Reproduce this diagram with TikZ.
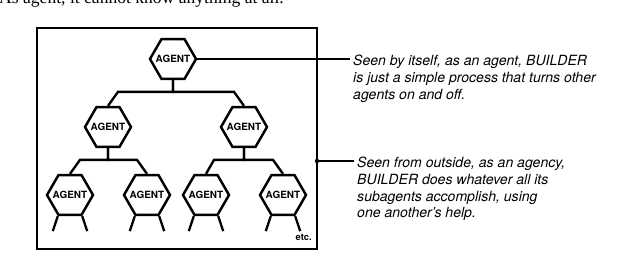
\documentclass[tikz,border=0pt]{standalone}
\usepackage{fontspec}
\setmainfont{Liberation Serif}
\setsansfont{TeX Gyre Heros}
\usetikzlibrary{shapes.geometric}
\newcommand{\agenttext}{\makebox[0pt]{AGENT}}
\begin{document}
\begin{tikzpicture}[x=0.03cm,y=-0.03cm,
        agent/.style={regular polygon, regular polygon sides=6, draw, line width=2.1pt, minimum size=1.38cm, inner sep=0pt, font=\sffamily\bfseries\fontsize{8.5}{9}\selectfont},
        wire/.style={line width=2pt},
        lead/.style={line width=1pt, shorten >=0.1cm},
        note/.style={align=left, inner sep=0pt, font=\sffamily\itshape\fontsize{12}{14.2}\selectfont}]
    \useasboundingbox (0,0) rectangle (631,265);
    \clip (0,0) rectangle (631,265);
    \node[anchor=base west, inner sep=0pt, font=\fontsize{15}{17}\selectfont] (prev) at (-1,4) {As agent, it cannot know anything at all.};
    \draw[line width=1.5pt] (37,28) rectangle (317,249);
    \coordinate (f2) at (317,161);
    \node[agent] (a0) at (173,59) {\agenttext};
    \node[agent] (a1) at (108,127) {\agenttext};
    \node[agent] (a2) at (244,127) {\agenttext};
    \node[agent] (a11) at (70,195) {\agenttext};
    \node[agent] (a12) at (147,195) {\agenttext};
    \node[agent] (a21) at (206,195) {\agenttext};
    \node[agent] (a22) at (283,195) {\agenttext};
    \draw[wire] (a1.north) -- ++(10,-14) -| (a0.south);
    \draw[wire] (a2.north) -- ++(-10,-14) -| (a0.south);
    \draw[wire] (a11.north) -- ++(10,-14) -| (a1.south);
    \draw[wire] (a12.north) -- ++(-10,-14) -| (a1.south);
    \draw[wire] (a21.north) -- ++(8,-14) -| (a2.south);
    \draw[wire] (a22.north) -- ++(-10,-14) -| (a2.south);
    \draw[wire] (a11.corner 4) -- ++(-5,15) (a11.corner 5) -- ++(5,15);
    \draw[wire] (a12.corner 4) -- ++(-5,15) (a12.corner 5) -- ++(5,15);
    \draw[wire] (a21.corner 4) -- ++(-5,15) (a21.corner 5) -- ++(5,15);
    \draw[wire] (a22.corner 4) -- ++(-5,15) (a22.corner 5) -- ++(5,15);
    \node[anchor=base east, inner sep=0pt, font=\sffamily\bfseries\fontsize{8}{9}\selectfont] (etc) at (312,241) {etc.};
    \node[note, anchor=north west] (t1) at (353,55) {Seen by itself, as an agent, BUILDER\\is just a simple process that turns other\\agents on and off.};
    \node[note, anchor=north west] (t2) at (357,157) {Seen from outside, as an agency,\\BUILDER does whatever all its\\subagents accomplish, using\\one another's help.};
    \draw[lead] (a0.east) -- (a0.east -| t1.west);
    \fill (f2) circle[radius=2.2];
    \draw[lead] (f2) -- (f2 -| t2.west);
\end{tikzpicture}
\end{document}
